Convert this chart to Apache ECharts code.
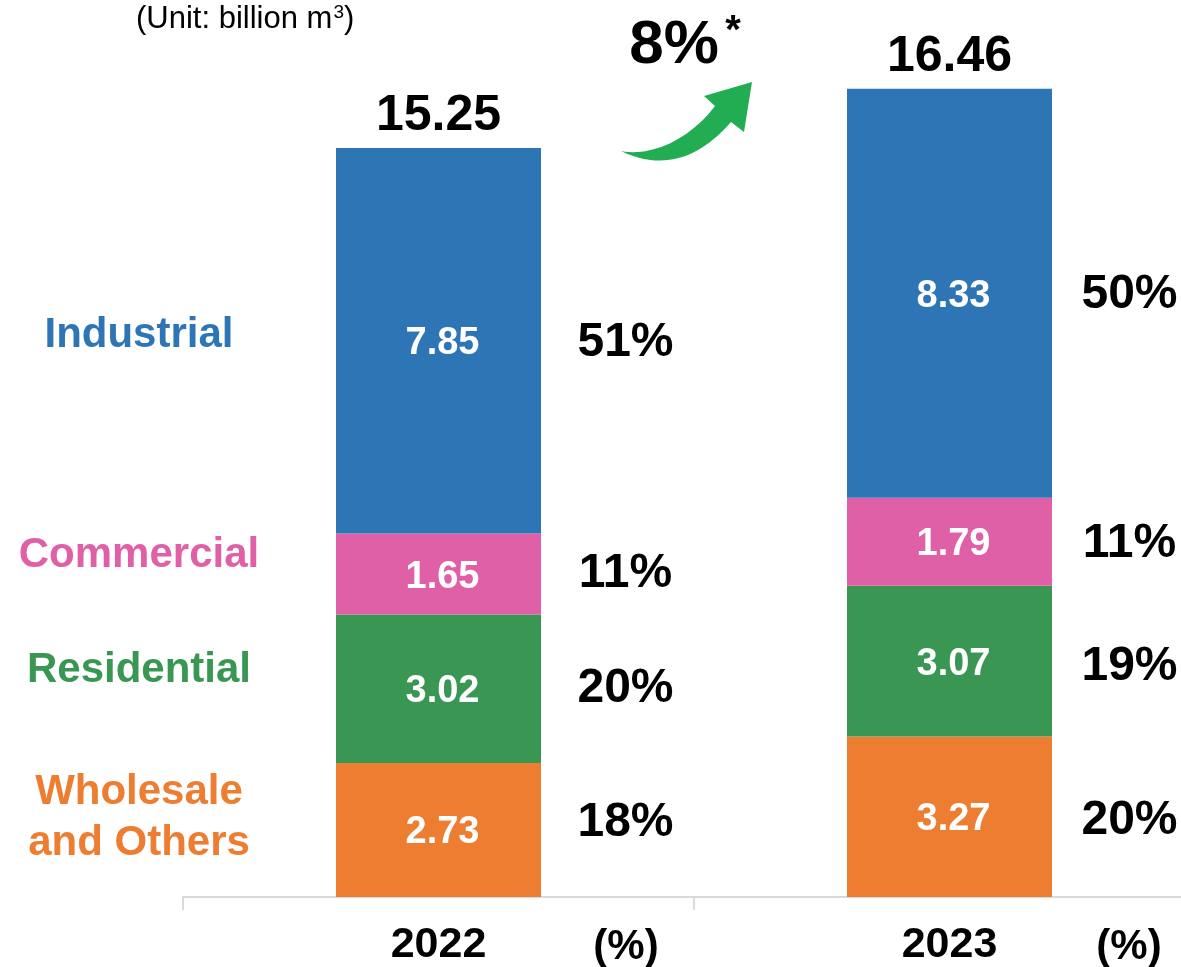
<!DOCTYPE html>
<html>
<head>
<meta charset="utf-8">
<script src="https://cdn.jsdelivr.net/npm/echarts@6/dist/echarts.min.js"></script>
<style>
  html, body { margin: 0; padding: 0; background: #ffffff; overflow: hidden; }
  /* The drawing surface is a little wider than the page so the 2023 band keeps the same width as 2022 */
  #chart { width: 1205px; height: 967px; }
</style>
</head>
<body>
<div id="chart"></div>
<script>
// Gas sales volume by customer segment (billion m3)
const years = ['2022', '2023'];
const wholesale = [2.73, 3.27];
const residential = [3.02, 3.07];
const commercial = [1.65, 1.79];
const industrial = [7.85, 8.33];
const totals = [15.25, 16.46];

// Share of each segment, as printed
const pctWholesale = ['18%', '20%'];
const pctResidential = ['20%', '19%'];
const pctCommercial = ['11%', '11%'];
const pctIndustrial = ['51%', '50%'];

const growthText = '8%';
const segmentNames = ['Wholesale\nand Others', 'Residential', 'Commercial', 'Industrial'];

const FONT = "'Liberation Sans', Arial, sans-serif";
const COLORS = {
  wholesale: '#ED7D31',
  residential: '#3A9753',
  commercial: '#E060A8',
  industrial: '#2E75B6',
  arrow: '#22AD52'
};

const stacks = [
  { name: 'Wholesale and Others', values: wholesale, pct: pctWholesale, color: COLORS.wholesale },
  { name: 'Residential', values: residential, pct: pctResidential, color: COLORS.residential },
  { name: 'Commercial', values: commercial, pct: pctCommercial, color: COLORS.commercial },
  { name: 'Industrial', values: industrial, pct: pctIndustrial, color: COLORS.industrial }
];

// Share label placement: horizontal shift per year, vertical nudge per [year][segment]
const pctOffsetX = [187, 180];
const pctNudgeY = [[-7, 0, 0, 2], [4, 6, 2, 2]];

const barSeries = stacks.map(s => ({
  name: s.name,
  type: 'bar',
  stack: 'total',
  barWidth: 205,
  data: s.values,
  itemStyle: { color: s.color },
  label: {
    show: true,
    position: 'inside',
    offset: [4, 3],
    color: '#ffffff',
    fontFamily: FONT,
    fontWeight: 'bold',
    fontSize: 38,
    formatter: p => p.value.toFixed(2)
  },
  emphasis: { disabled: true },
  silent: true
}));

// Share labels placed beside the middle of each stacked segment
const pctData = [];
years.forEach((y, i) => {
  let base = 0;
  stacks.forEach((s, k) => {
    const v = s.values[i];
    pctData.push({
      value: [i, base + v / 2],
      pctText: s.pct[i],
      label: { offset: [pctOffsetX[i], pctNudgeY[i][k]] }
    });
    base += v;
  });
});

const hiddenPoint = { color: 'rgba(0,0,0,0)', opacity: 1 };

const pctSeries = {
  type: 'scatter',
  data: pctData,
  symbolSize: 1,
  itemStyle: hiddenPoint,
  label: {
    show: true,
    position: 'inside',
    color: '#000000',
    opacity: 1,
    textBorderWidth: 0,
    fontFamily: FONT,
    fontWeight: 'bold',
    fontSize: 48,
    formatter: p => p.data.pctText
  },
  silent: true,
  z: 5
};

const totalSeries = {
  type: 'scatter',
  data: totals.map((t, i) => [i, t]),
  symbolSize: 1,
  itemStyle: hiddenPoint,
  label: {
    show: true,
    position: 'top',
    distance: 6,
    color: '#000000',
    opacity: 1,
    textBorderWidth: 0,
    fontFamily: FONT,
    fontWeight: 'bold',
    fontSize: 50,
    formatter: p => p.value[1].toFixed(2)
  },
  silent: true,
  z: 5
};

// Curved growth arrow outline: two cubic edges joined by the arrow head
function cubicPoints(p0, p1, p2, p3, n) {
  const pts = [];
  for (let k = 0; k <= n; k++) {
    const t = k / n, u = 1 - t;
    pts.push([
      u * u * u * p0[0] + 3 * u * u * t * p1[0] + 3 * u * t * t * p2[0] + t * t * t * p3[0],
      u * u * u * p0[1] + 3 * u * u * t * p1[1] + 3 * u * t * t * p2[1] + t * t * t * p3[1]
    ]);
  }
  return pts;
}
const arrowOutline = [].concat(
  cubicPoints([621, 151], [652, 157], [690, 139], [715, 106], 24),
  [[704, 96], [752, 82], [744, 132]],
  cubicPoints([731, 122], [705, 152], [668, 174], [621, 151], 24)
);

const segmentLabelY = [818, 670, 555, 335];

const graphics = [
  {
    type: 'text',
    x: 136,
    y: 3,
    style: {
      text: '{t|(Unit: billion m}{s|3}{t|)}',
      rich: {
        t: { fontFamily: FONT, fontSize: 31, fill: '#000000', verticalAlign: 'bottom', lineHeight: 32 },
        s: { fontFamily: FONT, fontSize: 19, fill: '#000000', verticalAlign: 'top', padding: [0, 0, 14, 1], lineHeight: 32 }
      }
    }
  },
  {
    type: 'text',
    x: 674,
    y: 46,
    style: {
      text: growthText,
      fontFamily: FONT,
      fontWeight: 'bold',
      fontSize: 62,
      fill: '#000000',
      align: 'center',
      verticalAlign: 'middle'
    }
  },
  {
    type: 'text',
    x: 733,
    y: 32,
    style: {
      text: '*',
      fontFamily: FONT,
      fontWeight: 'bold',
      fontSize: 40,
      fill: '#000000',
      align: 'center',
      verticalAlign: 'middle'
    }
  },
  {
    type: 'polygon',
    shape: { points: arrowOutline },
    style: { fill: COLORS.arrow }
  }
];

stacks.forEach((s, k) => {
  graphics.push({
    type: 'text',
    x: 139,
    y: segmentLabelY[k],
    style: {
      text: segmentNames[k],
      fontFamily: FONT,
      fontWeight: 'bold',
      fontSize: 42,
      lineHeight: 51,
      fill: s.color,
      align: 'center',
      verticalAlign: 'middle'
    }
  });
});

[626, 1129].forEach(x => {
  graphics.push({
    type: 'text',
    x: x,
    y: 947,
    style: {
      text: '(%)',
      fontFamily: FONT,
      fontWeight: 'bold',
      fontSize: 42,
      fill: '#000000',
      align: 'center',
      verticalAlign: 'middle'
    }
  });
});

const chart = echarts.init(document.getElementById('chart'), null, { renderer: 'canvas' });
chart.setOption({
  animation: false,
  backgroundColor: '#ffffff',
  grid: { left: 183, right: 0, top: 13, bottom: 69, containLabel: false },
  xAxis: {
    type: 'category',
    data: years,
    axisLine: { show: true, lineStyle: { color: '#D9D9D9', width: 2 } },
    axisTick: { show: true, length: 13, lineStyle: { color: '#D9D9D9', width: 2 } },
    axisLabel: {
      color: '#000000',
      fontFamily: FONT,
      fontWeight: 'bold',
      fontSize: 43,
      margin: 27
    }
  },
  yAxis: {
    type: 'value',
    min: 0,
    max: 18,
    show: false,
    splitLine: { show: false }
  },
  series: [...barSeries, pctSeries, totalSeries],
  graphic: graphics
});
</script>
</body>
</html>
